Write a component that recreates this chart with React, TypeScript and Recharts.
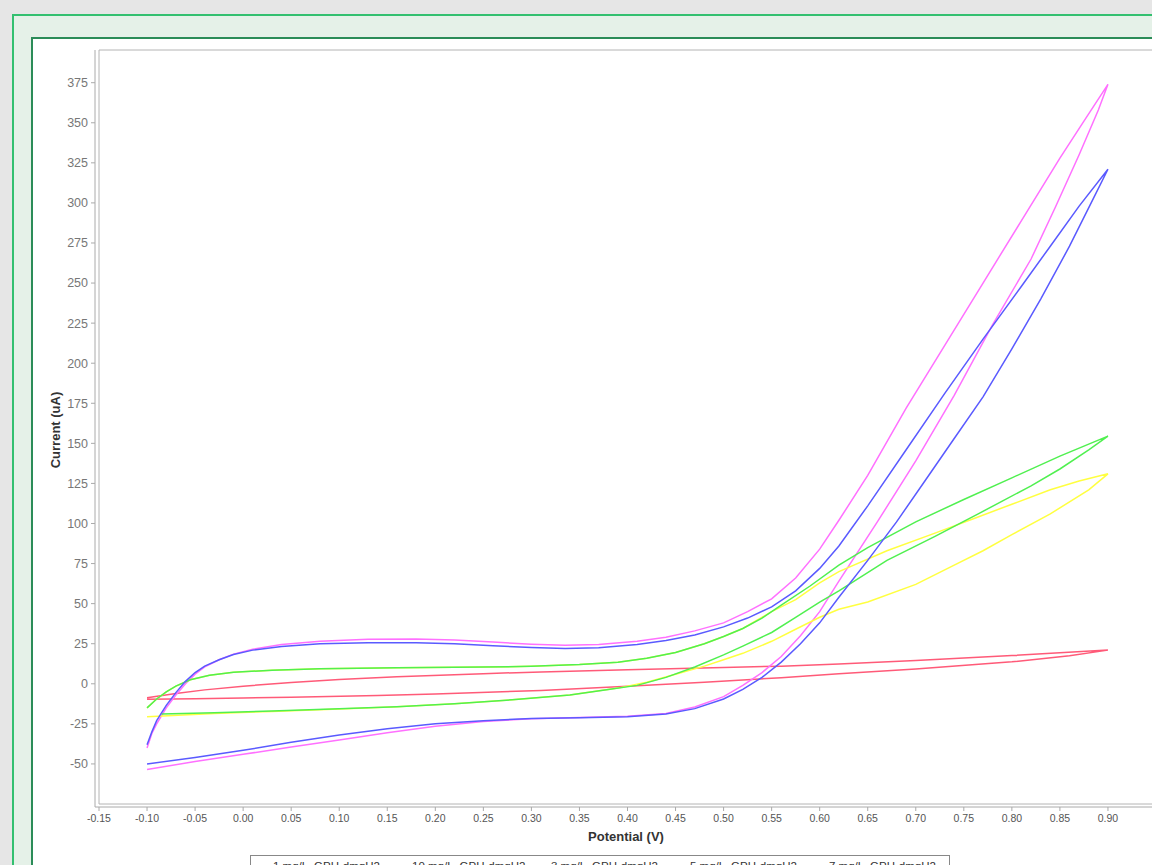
import React from "react";
import { LineChart, Line, XAxis, YAxis, ReferenceArea } from "recharts";

// cyclic voltammetry loops, [potential (V), current (uA)], forward sweep then return sweep
const loop1: [number, number][] = [
  [-0.1, -8.7], [-0.07, -6], [-0.04, -3.8], [0.0, -1.5], [0.05, 0.8], [0.1, 2.6], [0.16, 4.4],
  [0.25, 6.3], [0.31, 7.4], [0.4, 8.8], [0.5, 10.2], [0.56, 11], [0.62, 12.4], [0.7, 14.6],
  [0.8, 17.6], [0.9, 21],
  [0.86, 17.5], [0.8, 13.7], [0.7, 9.2], [0.62, 6.2], [0.56, 3.8], [0.48, 1], [0.4, -1.5],
  [0.31, -4.2], [0.2, -6.3], [0.14, -7.3], [0.05, -8.4], [0.0, -8.8], [-0.05, -9.3], [-0.1, -9.7],
];

const loop10: [number, number][] = [
  [-0.1, -40], [-0.095, -31], [-0.09, -25], [-0.08, -15], [-0.07, -7], [-0.06, 0], [-0.05, 6],
  [-0.04, 10.5], [-0.025, 15], [-0.01, 18.5], [0.01, 21.5], [0.04, 24.5], [0.08, 26.5],
  [0.13, 27.8], [0.18, 28], [0.22, 27.3], [0.26, 26], [0.3, 24.7], [0.335, 24], [0.37, 24.5],
  [0.41, 26.5], [0.44, 29], [0.47, 33], [0.5, 38], [0.525, 45], [0.55, 53], [0.575, 66],
  [0.6, 84], [0.62, 102], [0.65, 130], [0.69, 172], [0.73, 211], [0.77, 250], [0.81, 289],
  [0.85, 328], [0.875, 351], [0.9, 374],
  [0.89, 358], [0.87, 330], [0.845, 297], [0.82, 265], [0.78, 224], [0.74, 180], [0.7, 139],
  [0.66, 101], [0.62, 64], [0.6, 45], [0.58, 30], [0.56, 17], [0.54, 7], [0.52, -1], [0.5, -8],
  [0.47, -14.5], [0.44, -18.5], [0.4, -20.3], [0.35, -21], [0.3, -21.8], [0.25, -23.5],
  [0.2, -26.5], [0.15, -30.5], [0.1, -35], [0.05, -39.5], [0.0, -44], [-0.05, -48.5], [-0.1, -53.5],
];

const loop3: [number, number][] = [
  [-0.1, -15], [-0.09, -9.5], [-0.08, -5], [-0.07, -1.5], [-0.055, 2.5], [-0.035, 5.3],
  [-0.01, 7.2], [0.03, 8.5], [0.08, 9.4], [0.16, 10], [0.25, 10.4], [0.3, 10.9], [0.35, 12],
  [0.39, 13.5], [0.42, 16], [0.45, 19.5], [0.48, 25], [0.5, 29.5], [0.52, 34.5], [0.55, 45],
  [0.575, 52.5], [0.6, 63], [0.62, 70], [0.67, 83], [0.72, 94], [0.76, 103], [0.8, 112],
  [0.84, 121], [0.87, 126.5], [0.9, 131],
  [0.88, 121], [0.84, 106], [0.8, 93], [0.77, 83], [0.74, 74], [0.7, 62], [0.65, 51],
  [0.62, 46.5], [0.6, 41.5], [0.575, 34], [0.55, 26.5], [0.52, 19], [0.5, 15], [0.48, 11],
  [0.45, 6], [0.42, 1], [0.39, -2.7], [0.34, -7], [0.28, -10], [0.22, -12.5], [0.16, -14.3],
  [0.1, -15.8], [0.03, -17.3], [-0.03, -18.5], [-0.1, -20.5],
];

const loop5: [number, number][] = [
  [-0.1, -15], [-0.09, -9.5], [-0.08, -5], [-0.07, -1.5], [-0.055, 2.5], [-0.035, 5.3],
  [-0.01, 7.2], [0.03, 8.5], [0.08, 9.4], [0.16, 10], [0.25, 10.4], [0.3, 10.9], [0.35, 12],
  [0.39, 13.5], [0.42, 16], [0.45, 19.5], [0.48, 25], [0.5, 29.5], [0.52, 34.5], [0.54, 41],
  [0.56, 49], [0.59, 61], [0.62, 74], [0.65, 85], [0.7, 101], [0.75, 115], [0.8, 128.5],
  [0.85, 142], [0.9, 154.5],
  [0.88, 146], [0.85, 134], [0.82, 123.5], [0.79, 114], [0.765, 106], [0.72, 92], [0.67, 77],
  [0.62, 58], [0.6, 51], [0.575, 41.5], [0.55, 32], [0.52, 23.5], [0.5, 18], [0.47, 10.5],
  [0.44, 4], [0.41, -1], [0.38, -3.5], [0.34, -7], [0.28, -10], [0.22, -12.5], [0.16, -14.3],
  [0.1, -15.5], [0.03, -17], [-0.03, -18], [-0.085, -18.8],
];

const loop7: [number, number][] = [
  [-0.1, -38], [-0.095, -30], [-0.09, -23], [-0.08, -13.5], [-0.07, -5.5], [-0.06, 1.5],
  [-0.05, 7], [-0.04, 11], [-0.025, 15], [-0.01, 18.3], [0.01, 21], [0.04, 23.3], [0.08, 25],
  [0.13, 25.6], [0.18, 25.6], [0.22, 25], [0.26, 23.8], [0.3, 22.6], [0.335, 22], [0.37, 22.5],
  [0.41, 24.5], [0.44, 27], [0.47, 30.5], [0.5, 35.5], [0.525, 41], [0.55, 48], [0.575, 58],
  [0.6, 72], [0.62, 86], [0.65, 111], [0.69, 146], [0.73, 181], [0.77, 215], [0.81, 248],
  [0.84, 273], [0.87, 298], [0.9, 321],
  [0.885, 303], [0.86, 273], [0.83, 240], [0.8, 209], [0.77, 179], [0.74, 153], [0.71, 127],
  [0.68, 101], [0.65, 77], [0.62, 54], [0.6, 38], [0.58, 25], [0.56, 13.5], [0.54, 4],
  [0.52, -3.5], [0.5, -9.5], [0.47, -15.5], [0.44, -18.8], [0.4, -20.5], [0.35, -21.2],
  [0.3, -21.7], [0.25, -23], [0.2, -25], [0.15, -28], [0.1, -32], [0.05, -36.5], [0.0, -41.5],
  [-0.05, -46], [-0.1, -50],
];

const seriesNames = [
  "1 mg/L  GPH-dmgH2",
  "10 mg/L  GPH-dmgH2",
  "3 mg/L  GPH-dmgH2",
  "5 mg/L  GPH-dmgH2",
  "7 mg/L  GPH-dmgH2",
];
const seriesColors = ["#ff5a78", "#ff70ff", "#ffff40", "#50f050", "#5a5aff"];
const loops = [loop1, loop10, loop3, loop5, loop7];

const xTicks = [
  -0.15, -0.1, -0.05, 0, 0.05, 0.1, 0.15, 0.2, 0.25, 0.3, 0.35, 0.4, 0.45, 0.5, 0.55, 0.6,
  0.65, 0.7, 0.75, 0.8, 0.85, 0.9,
];
const yTicks = [-50, -25, 0, 25, 50, 75, 100, 125, 150, 175, 200, 225, 250, 275, 300, 325, 350, 375];

const FONT = "'Liberation Sans', Arial, sans-serif";

export default function App() {
  const series = loops.map((loop, i) => ({
    name: seriesNames[i],
    color: seriesColors[i],
    data: loop.map(([x, y]) => ({ x, y })),
  }));

  return (
    <div
      style={{
        position: "fixed",
        left: 0,
        top: 0,
        width: 1152,
        height: 865,
        overflow: "hidden",
        background: "#e6e6e6",
        fontFamily: FONT,
      }}
    >
      {/* outer and inner frames */}
      <div
        style={{
          position: "absolute",
          left: 12,
          top: 14,
          width: 1300,
          height: 1000,
          border: "2px solid #33c070",
          background: "#e5f1e8",
        }}
      />
      <div
        style={{
          position: "absolute",
          left: 31,
          top: 37,
          width: 1300,
          height: 1000,
          border: "2px solid #2b8c58",
          background: "#ffffff",
        }}
      />

      <div style={{ position: "absolute", left: 0, top: 0 }}>
        <LineChart width={1200} height={860} margin={{ top: 50, right: 44, bottom: 0, left: 0 }}>
          <XAxis
            dataKey="x"
            type="number"
            domain={[-0.15, 0.95]}
            ticks={xTicks}
            interval={0}
            padding={{ left: 4, right: 0 }}
            allowDataOverflow
            height={53}
            tickFormatter={(v: number) => v.toFixed(2)}
            tick={{ fill: "#555", fontSize: 10.5, fontFamily: FONT }}
            axisLine={{ stroke: "#aaaaaa" }}
            tickLine={{ stroke: "#aaaaaa" }}
            tickSize={4}
            tickMargin={4}
          />
          <YAxis
            dataKey="y"
            type="number"
            domain={[-75, 395.4]}
            ticks={yTicks}
            interval={0}
            padding={{ top: 0, bottom: 3 }}
            allowDataOverflow
            width={95}
            tick={{ fill: "#777", fontSize: 12.5, fontFamily: FONT }}
            axisLine={{ stroke: "#aaaaaa" }}
            tickLine={{ stroke: "#aaaaaa" }}
            tickSize={4}
            tickMargin={3}
          />
          <ReferenceArea
            x1={-0.15}
            x2={0.95}
            y1={-75}
            y2={395.4}
            stroke="#b4b4b4"
            strokeWidth={1}
            fill="none"
            ifOverflow="visible"
          />
          {series.map((s) => (
            <Line
              key={s.name}
              data={s.data}
              dataKey="y"
              name={s.name}
              type="linear"
              stroke={s.color}
              strokeWidth={1.5}
              dot={false}
              activeDot={false}
              isAnimationActive={false}
            />
          ))}
        </LineChart>
      </div>

      {/* axis titles */}
      <div
        style={{
          position: "absolute",
          left: 55,
          top: 430,
          transform: "translate(-50%, -50%) rotate(-90deg)",
          fontSize: 13,
          fontWeight: "bold",
          color: "#333",
          whiteSpace: "nowrap",
        }}
      >
        Current (uA)
      </div>
      <div
        style={{
          position: "absolute",
          left: 626,
          top: 836,
          transform: "translate(-50%, -50%)",
          fontSize: 13,
          fontWeight: "bold",
          color: "#333",
          whiteSpace: "nowrap",
        }}
      >
        Potential (V)
      </div>

      {/* legend */}
      <div
        style={{
          position: "absolute",
          left: 250,
          top: 855,
          width: 700,
          height: 22,
          border: "1px solid #888",
          background: "#fff",
          display: "flex",
          alignItems: "center",
          paddingLeft: 3,
          boxSizing: "border-box",
        }}
      >
        {series.map((s) => (
          <div
            key={s.name}
            style={{ display: "flex", alignItems: "center", width: 140, fontSize: 11.5, color: "#333" }}
          >
            <span style={{ display: "inline-block", width: 16, height: 2, background: s.color, marginRight: 3 }} />
            <span style={{ whiteSpace: "pre" }}>{s.name}</span>
          </div>
        ))}
      </div>
    </div>
  );
}
